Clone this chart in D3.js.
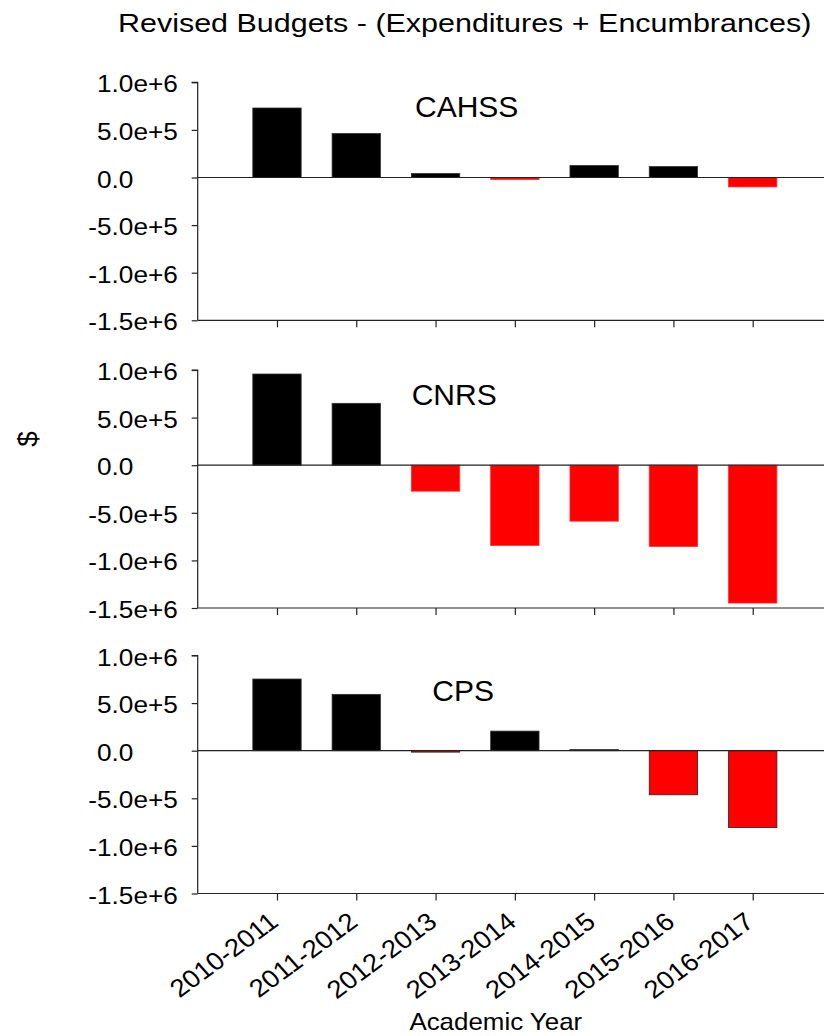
<!DOCTYPE html>
<html>
<head>
<meta charset="utf-8">
<script src="https://cdn.jsdelivr.net/npm/d3@7"></script>
<style>
  html, body { margin: 0; padding: 0; background: #fff; }
  svg { display: block; }
  text { font-family: "Liberation Sans", Arial, sans-serif; fill: #000; }
</style>
</head>
<body>
<svg id="chart" width="824" height="1036"></svg>
<script>
// Academic years on the x axis
const years = ["2010-2011", "2011-2012", "2012-2013", "2013-2014", "2014-2015", "2015-2016", "2016-2017"];

// Colleges, one panel each
const colleges = ["CAHSS", "CNRS", "CPS"];

// Revised budget minus (expenditures + encumbrances), dollars
const cahss = [730000, 462000, 42000, -20000, 126000, 115000, -99000];
const cnrs  = [958000, 650000, -273000, -843000, -588000, -854000, -1448000];
const cps   = [753000, 592000, -15000, 206000, 12000, -463000, -807000];

// Y axis ticks and their labels
const yTicks = [-1500000, -1000000, -500000, 0, 500000, 1000000];
const yTickLabels = ["-1.5e+6", "-1.0e+6", "-5.0e+5", "0.0", "5.0e+5", "1.0e+6"];

const title = "Revised Budgets - (Expenditures + Encumbrances)";
const xTitle = "Academic Year";
const yTitle = "$";

const seriesByCollege = [cahss, cnrs, cps];

const svg = d3.select("#chart");

// Layout
const axisX = 197.7;
const panelTops = [82.3, 370, 655.5];
const panelH = 238;
const labelPos = [[415, 35], [411.7, 35], [432.3, 45.7]];
const textStretch = 1.14;

const x = d3.scaleLinear().domain([0, years.length + 1]).range([axisX, 832]);
const barW = 0.61;

seriesByCollege.forEach((vals, p) => {
  const top = panelTops[p];
  const y = d3.scaleLinear().domain([-1500000, 1000000]).range([top + panelH, top]);
  const g = svg.append("g");

  // bars
  g.selectAll("rect.bar")
    .data(vals)
    .join("rect")
    .attr("class", "bar")
    .attr("x", (d, i) => x(i + 1 - barW / 2))
    .attr("width", x(barW) - x(0))
    .attr("y", d => y(Math.max(0, d)))
    .attr("height", d => Math.max(1, Math.abs(y(d) - y(0))))
    .attr("fill", d => d < 0 ? "#ff0000" : "#000000")
    .attr("stroke", d => d < 0 ? (p === 2 ? "#222" : "#ff3030") : "#333")
    .attr("stroke-width", 0.8);

  // zero line
  g.append("line")
    .attr("x1", axisX).attr("x2", 824)
    .attr("y1", y(0)).attr("y2", y(0))
    .attr("stroke", "#222").attr("stroke-width", 1.2);

  // left axis
  const yAxis = d3.axisLeft(y).tickValues(yTicks).tickSize(6).tickFormat("");
  const ya = g.append("g").attr("transform", `translate(${axisX},0)`).call(yAxis);
  ya.select(".domain").attr("stroke", "#222").attr("stroke-width", 1.2).attr("d", `M-6,${y(1000000)}H0V${y(-1500000)}`);
  ya.selectAll(".tick line").attr("stroke", "#222").attr("stroke-width", 1.2);

  // bottom axis
  const xAxis = d3.axisBottom(x).tickValues(d3.range(1, years.length + 1)).tickSize(7).tickFormat("");
  const xa = g.append("g").attr("transform", `translate(0,${top + panelH})`).call(xAxis);
  xa.select(".domain").attr("stroke", "#222").attr("stroke-width", 1.2).attr("d", `M${axisX},0H832`);
  xa.selectAll(".tick line").attr("stroke", "#222").attr("stroke-width", 1.2);

  // tick labels, aligned on the decimal point
  const labelX = 97;
  yTicks.forEach((t, k) => {
    const lab = yTickLabels[k];
    const neg = lab.startsWith("-");
    const tg = g.append("g")
      .attr("transform", `translate(${labelX},${y(t) + 10}) scale(${textStretch},1)`);
    if (neg) {
      tg.append("text").attr("text-anchor", "end").attr("font-size", 23).text("-");
    }
    tg.append("text").attr("text-anchor", "start").attr("font-size", 23).text(neg ? lab.slice(1) : lab);
  });

  // college name
  g.append("text")
    .attr("x", labelPos[p][0]).attr("y", top + labelPos[p][1])
    .attr("font-size", 30)
    .text(colleges[p]);
});

// x tick labels under the last panel
const bottomY = panelTops[2] + panelH;
svg.append("g").selectAll("text")
  .data(years)
  .join("text")
  .attr("transform", (d, i) => `translate(${x(i + 1) + 3},${bottomY + 31}) scale(1.1,1) rotate(-39)`)
  .attr("text-anchor", "end")
  .attr("font-size", 25)
  .text(d => d);

// axis titles
svg.append("text")
  .attr("transform", `translate(495.8,1030) scale(1.08,1)`)
  .attr("text-anchor", "middle")
  .attr("font-size", 24)
  .text(xTitle);

svg.append("text")
  .attr("transform", `translate(37,439) rotate(-90)`)
  .attr("text-anchor", "middle")
  .attr("font-size", 28)
  .text(yTitle);

// chart title
svg.append("text")
  .attr("transform", `translate(118,31.7) scale(1.15,1)`)
  .attr("text-anchor", "start")
  .attr("font-size", 26.5)
  .text(title);
</script>
</body>
</html>
